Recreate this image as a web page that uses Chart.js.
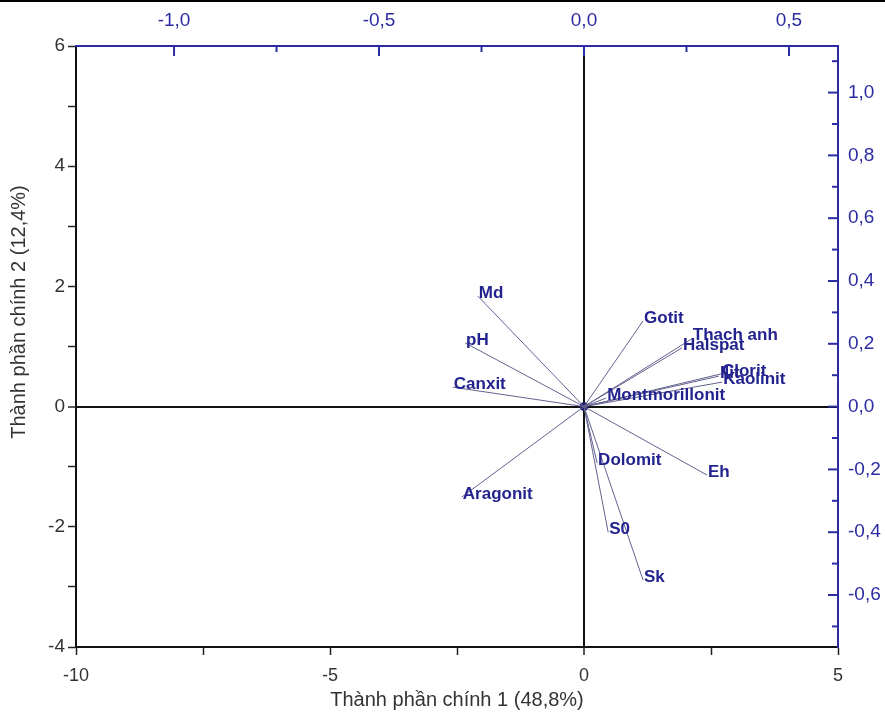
<!DOCTYPE html>
<html>
<head>
<meta charset="utf-8">
<script src="https://cdn.jsdelivr.net/npm/chart.js@4/dist/chart.umd.min.js"></script>
<style>
html, body { margin: 0; padding: 0; background: #fff; }
#wrap { width: 885px; height: 713px; }
</style>
</head>
<body>
<div id="wrap"><canvas id="myChart" width="885" height="713"></canvas></div>
<script>
const variables = ['Md', 'pH', 'Canxit', 'Aragonit', 'Dolomit', 'S0', 'Sk', 'Eh', 'Gotit',
    'Thach anh', 'Halspat', 'Clorit', 'Ilit', 'Kaolinit', 'Montmorillonit'];
const loadPC1 = [-0.259, -0.290, -0.320, -0.298, 0.032, 0.059, 0.144, 0.300, 0.144,
    0.263, 0.239, 0.334, 0.329, 0.337, 0.054];
const loadPC2 = [0.352, 0.203, 0.062, -0.288, -0.180, -0.400, -0.552, -0.218, 0.273,
    0.216, 0.187, 0.104, 0.097, 0.078, 0.027];

// score axes (bottom, left)
const pc1Ticks = [-10, -7.5, -5, -2.5, 0, 2.5, 5];
const pc1Labels = [-10, -5, 0, 5];
const pc2Ticks = [-4, -3, -2, -1, 0, 1, 2, 3, 4, 5, 6];
const pc2Labels = [-4, -2, 0, 2, 4, 6];
// loading axes (top, right)
const load1Ticks = [-1, -0.75, -0.5, -0.25, 0, 0.25, 0.5];
const load1Labels = [-1, -0.5, 0, 0.5];
const load2Ticks = [-0.7, -0.6, -0.5, -0.4, -0.3, -0.2, -0.1, 0, 0.1, 0.2, 0.3, 0.4, 0.5, 0.6, 0.7, 0.8, 0.9, 1.0, 1.1];
const load2Labels = [-0.6, -0.4, -0.2, 0, 0.2, 0.4, 0.6, 0.8, 1.0];

const titlePC1 = 'Thành phần chính 1 (48,8%)';
const titlePC2 = 'Thành phần chính 2 (12,4%)';

const axisBlue = '#2b2ba3';
const textBlue = '#23238f';
const lineColor = '#62628f';
const fontName = '"Liberation Sans", Arial, sans-serif';

function comma(v) {
    return v.toFixed(1).replace('.', ',').replace('-0,0', '0,0');
}

var datasets = [];
for (var i = 0; i < variables.length; ++i) {
    datasets.push({
        label: variables[i],
        data: [{x: 0, y: 0}, {x: loadPC1[i], y: loadPC2[i]}],
        xAxisID: 'x2',
        yAxisID: 'y2',
        showLine: true,
        borderColor: lineColor,
        borderWidth: 1,
        pointRadius: 0
    });
}
datasets.push({
    label: 'origin',
    data: [{x: 0, y: 0}],
    xAxisID: 'x2',
    yAxisID: 'y2',
    pointRadius: 4,
    backgroundColor: '#1c1c6e',
    borderColor: '#1c1c6e'
});

const vectorLabels = {
    id: 'vectorLabels',
    afterDatasetsDraw(chart) {
        var ctx = chart.ctx;
        ctx.save();
        ctx.font = 'bold 17px ' + fontName;
        ctx.fillStyle = textBlue;
        ctx.textAlign = 'left';
        ctx.textBaseline = 'middle';
        for (var i = 0; i < variables.length; ++i) {
            var pt = chart.getDatasetMeta(i).data[1];
            ctx.fillText(variables[i], pt.x + 1, pt.y - 3);
        }
        ctx.restore();
    }
};

// top and right axes have their tick marks pointing inside
const innerTicks = {
    id: 'innerTicks',
    afterDraw(chart) {
        var ctx = chart.ctx;
        var a = chart.chartArea;
        var top = chart.scales.x2;
        var right = chart.scales.y2;
        ctx.save();
        ctx.strokeStyle = axisBlue;
        ctx.lineWidth = 2;
        load1Ticks.forEach(function(v) {
            var px = top.getPixelForValue(v);
            var len = load1Labels.includes(v) ? 10 : 6;
            ctx.beginPath();
            ctx.moveTo(px, a.top);
            ctx.lineTo(px, a.top + len);
            ctx.stroke();
        });
        load2Ticks.forEach(function(v) {
            var py = right.getPixelForValue(v);
            var len = load2Labels.includes(v) ? 10 : 6;
            ctx.beginPath();
            ctx.moveTo(a.right, py);
            ctx.lineTo(a.right - len, py);
            ctx.stroke();
        });

        // left title sits a bit above the middle of the axis
        ctx.translate(19, 312);
        ctx.rotate(-Math.PI / 2);
        ctx.font = '20px ' + fontName;
        ctx.fillStyle = '#333';
        ctx.textAlign = 'center';
        ctx.textBaseline = 'middle';
        ctx.fillText(titlePC2, 0, 0);
        ctx.setTransform(1, 0, 0, 1, 0, 0);

        // frame line along the top edge of the picture
        ctx.fillStyle = '#000';
        ctx.fillRect(0, 0, chart.width, 2);
        ctx.restore();
    }
};

function setTicks(values) {
    return function(scale) {
        scale.ticks = values.map(function(v) { return {value: v}; });
    };
}

function fixSize(prop, size) {
    return function(scale) { scale[prop] = size; };
}

var zeroGrid = {
    drawOnChartArea: true,
    drawTicks: true,
    tickLength: 8,
    tickColor: '#222',
    tickWidth: 1.5,
    color: function(c) { return c.tick && c.tick.value === 0 ? '#111' : 'rgba(0,0,0,0)'; },
    lineWidth: function(c) { return c.tick && c.tick.value === 0 ? 2 : 1; }
};

var chart = new Chart(document.getElementById('myChart'), {
    type: 'scatter',
    data: { datasets: datasets },
    plugins: [vectorLabels, innerTicks],
    options: {
        responsive: false,
        animation: false,
        layout: { padding: 0 },
        plugins: {
            legend: { display: false },
            tooltip: { enabled: false }
        },
        scales: {
            x: {
                type: 'linear',
                position: 'bottom',
                min: -10,
                max: 5,
                afterBuildTicks: setTicks(pc1Ticks),
                afterFit: fixSize('height', 66),
                grid: zeroGrid,
                border: { display: true, color: '#111', width: 2 },
                ticks: {
                    autoSkip: false,
                    maxRotation: 0,
                    padding: 10,
                    color: '#333',
                    font: { family: fontName, size: 18 },
                    callback: function(v) { return pc1Labels.includes(v) ? String(v) : ''; }
                },
                title: {
                    display: true,
                    text: titlePC1,
                    color: '#333',
                    font: { family: fontName, size: 20 },
                    padding: { top: 0, bottom: 1 }
                }
            },
            y: {
                type: 'linear',
                position: 'left',
                min: -4,
                max: 6,
                afterBuildTicks: setTicks(pc2Ticks),
                afterFit: fixSize('width', 76),
                grid: zeroGrid,
                border: { display: true, color: '#111', width: 2 },
                ticks: {
                    autoSkip: false,
                    padding: 3,
                    color: '#333',
                    font: { family: fontName, size: 19 },
                    callback: function(v) { return pc2Labels.includes(v) ? String(v) : ''; }
                }
            },
            x2: {
                type: 'linear',
                position: 'top',
                min: -10 / 8.07,
                max: 5 / 8.07,
                afterBuildTicks: setTicks(load1Labels),
                afterFit: fixSize('height', 46),
                grid: { drawOnChartArea: false, drawTicks: false },
                border: { display: true, color: axisBlue, width: 2 },
                ticks: {
                    autoSkip: false,
                    maxRotation: 0,
                    padding: 14,
                    color: axisBlue,
                    font: { family: fontName, size: 19 },
                    callback: function(v) { return comma(v); }
                }
            },
            y2: {
                type: 'linear',
                position: 'right',
                min: -4 / 5.225,
                max: 6 / 5.225,
                afterBuildTicks: setTicks(load2Labels),
                afterFit: fixSize('width', 47),
                grid: { drawOnChartArea: false, drawTicks: false },
                border: { display: true, color: axisBlue, width: 2 },
                ticks: {
                    autoSkip: false,
                    padding: 10,
                    color: axisBlue,
                    font: { family: fontName, size: 19 },
                    callback: function(v) { return comma(v); }
                }
            }
        }
    }
});
</script>
</body>
</html>
